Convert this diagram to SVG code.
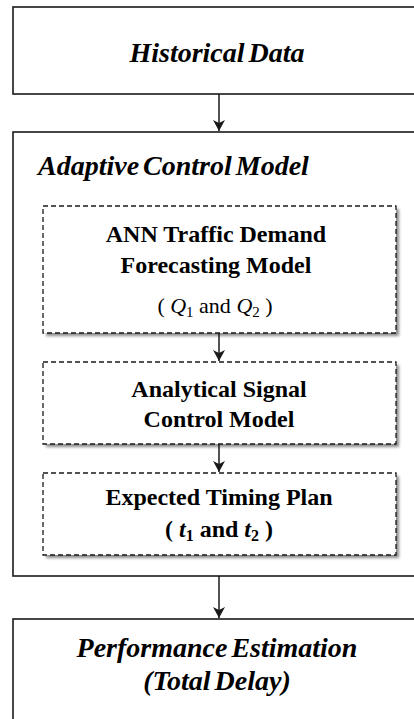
<svg xmlns="http://www.w3.org/2000/svg" width="414" height="719" viewBox="0 0 414 719">
<style>
.box{fill:#fff;stroke:#1a1a1a;stroke-width:1.6}
.dash{fill:#fff;stroke:#1a1a1a;stroke-width:1.3;stroke-dasharray:5 3}
.shadow{fill:#8a8a8a;filter:url(#blur)}
.conn{stroke:#1a1a1a;stroke-width:1.5;fill:none}
.ti{font-family:"Liberation Serif","Times New Roman",serif;font-weight:bold;font-style:italic;font-size:28px;fill:#000;word-spacing:-3px}
.tb{font-family:"Liberation Serif","Times New Roman",serif;font-weight:bold;font-size:24px;fill:#000}
.tr{font-family:"Liberation Serif","Times New Roman",serif;font-size:22px;fill:#000}
</style>
<defs>
<filter id="blur" x="-10%" y="-10%" width="120%" height="120%"><feGaussianBlur stdDeviation="1.5"/></filter>
<marker id="arr" markerWidth="12" markerHeight="12" refX="11" refY="6" orient="auto" markerUnits="userSpaceOnUse" viewBox="0 0 12 12">
<path d="M0,0 L3,6 L0,12 L11,6 z" fill="#1a1a1a"/>
</marker>
</defs>
<g id="historical-data">
<rect class="box" x="13" y="7" width="412" height="87"/>
<text class="ti" x="217" y="62" text-anchor="middle">Historical Data</text>
</g>
<g id="adaptive-control-model">
<rect class="box" x="13" y="132" width="412" height="444"/>
<text class="ti" x="38" y="175">Adaptive Control Model</text>
</g>
<g id="ann-model">
<rect class="shadow" x="46" y="209" width="353" height="127"/>
<rect class="dash" x="43" y="206" width="353" height="127"/>
<text class="tb" x="216" y="242" text-anchor="middle">ANN Traffic Demand</text>
<text class="tb" x="216" y="273" text-anchor="middle">Forecasting Model</text>
<text class="tr" x="215" y="313" text-anchor="middle">( <tspan font-style="italic">Q</tspan><tspan font-size="15" dy="4">1</tspan><tspan dy="-4"> and </tspan><tspan font-style="italic">Q</tspan><tspan font-size="15" dy="4">2</tspan><tspan dy="-4"> )</tspan></text>
</g>
<g id="analytical-model">
<rect class="shadow" x="46" y="365" width="353" height="82"/>
<rect class="dash" x="43" y="362" width="353" height="82"/>
<text class="tb" x="219" y="397" text-anchor="middle">Analytical Signal</text>
<text class="tb" x="219" y="427" text-anchor="middle">Control Model</text>
</g>
<g id="timing-plan">
<rect class="shadow" x="46" y="476" width="353" height="82"/>
<rect class="dash" x="43" y="473" width="353" height="82"/>
<text class="tb" x="219" y="505" text-anchor="middle">Expected Timing Plan</text>
<text class="tb" x="219" y="537" text-anchor="middle">( <tspan font-style="italic">t</tspan><tspan font-size="16" dy="4">1</tspan><tspan dy="-4"> and </tspan><tspan font-style="italic">t</tspan><tspan font-size="16" dy="4">2</tspan><tspan dy="-4"> )</tspan></text>
</g>
<g id="performance-estimation">
<rect class="box" x="13" y="619" width="412" height="120"/>
<text class="ti" x="217" y="657" text-anchor="middle">Performance Estimation</text>
<text class="ti" x="217" y="690" text-anchor="middle">(Total Delay)</text>
</g>
<g id="connectors">
<line class="conn" x1="219" y1="94" x2="219" y2="131" marker-end="url(#arr)"/>
<line class="conn" x1="219" y1="333" x2="219" y2="361" marker-end="url(#arr)"/>
<line class="conn" x1="219" y1="444" x2="219" y2="472" marker-end="url(#arr)"/>
<line class="conn" x1="219" y1="576" x2="219" y2="618" marker-end="url(#arr)"/>
</g>
</svg>
